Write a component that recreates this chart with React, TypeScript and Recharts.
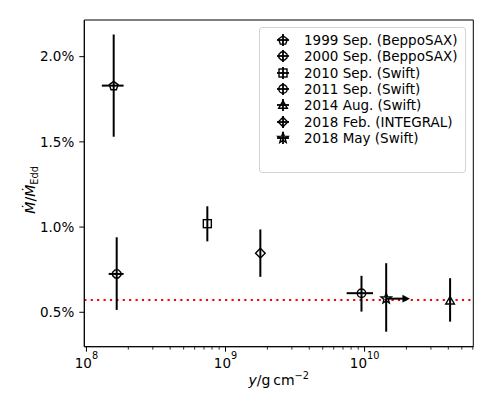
import React from "react";
import {
  ScatterChart,
  Scatter,
  XAxis,
  YAxis,
  ErrorBar,
  ReferenceLine,
  ReferenceArea,
  ReferenceDot,
  Legend,
} from "recharts";

const LABELS = [
  "1999 Sep. (BeppoSAX)",
  "2000 Sep. (BeppoSAX)",
  "2010 Sep. (Swift)",
  "2011 Sep. (Swift)",
  "2014 Aug. (Swift)",
  "2018 Feb. (INTEGRAL)",
  "2018 May (Swift)",
];
const MARKERS = ["pentagon", "octagon", "square", "circle", "triangle", "diamond", "star"];

// column depth y (g cm^-2) with x error range
const COLUMN = [1.57e8, 1.65e8, 7.4e8, 9.5e9, 4.12e10, 1.78e9, 1.43e10];
const COLUMN_LO = [1.29e8, 1.445e8, 7.4e8, 7.43e9, 4.12e10, 1.78e9, 1.43e10];
const COLUMN_HI = [1.85e8, 1.85e8, 7.4e8, 1.15e10, 4.12e10, 1.78e9, 2.0e10];

// accretion rate in % of Eddington with y error range
const RATE = [1.83, 0.725, 1.02, 0.612, 0.568, 0.847, 0.58];
const RATE_LO = [1.53, 0.514, 0.916, 0.504, 0.445, 0.708, 0.386];
const RATE_HI = [2.13, 0.94, 1.122, 0.714, 0.7, 0.986, 0.788];

// 2018 May is a lower limit on y -> arrow to the right
const LIMIT_INDEX = 6;
const LIMIT_TIP = 2.12e10;

const THRESHOLD = 0.572;

const X_DOMAIN = [9.65e7, 6.05e10];
const Y_DOMAIN = [0.298, 2.215];
const X_TICKS = [
  1e8, 2e8, 3e8, 4e8, 5e8, 6e8, 7e8, 8e8, 9e8,
  1e9, 2e9, 3e9, 4e9, 5e9, 6e9, 7e9, 8e9, 9e9,
  1e10, 2e10, 3e10, 4e10, 5e10, 6e10,
];
const Y_TICKS = [0.5, 1.0, 1.5, 2.0];

const FONT = "'DejaVu Sans', sans-serif";

function polygon(cx: number, cy: number, r: number, n: number, start: number) {
  const pts: string[] = [];
  for (let i = 0; i < n; i++) {
    const a = ((start + (360 / n) * i) * Math.PI) / 180;
    pts.push(`${cx + r * Math.cos(a)},${cy + r * Math.sin(a)}`);
  }
  return pts.join(" ");
}

function starPoints(cx: number, cy: number, ro: number, ri: number) {
  const pts: string[] = [];
  for (let i = 0; i < 10; i++) {
    const r = i % 2 === 0 ? ro : ri;
    const a = ((-90 + 36 * i) * Math.PI) / 180;
    pts.push(`${cx + r * Math.cos(a)},${cy + r * Math.sin(a)}`);
  }
  return pts.join(" ");
}

function Marker({ kind, cx, cy }: { kind: string; cx: number; cy: number }) {
  const common = { fill: "none", stroke: "#000", strokeWidth: 1.4 };
  switch (kind) {
    case "pentagon":
      return <polygon points={polygon(cx, cy + 0.4, 4.6, 5, -90)} {...common} />;
    case "octagon":
      return <polygon points={polygon(cx, cy, 4.4, 8, 22.5)} {...common} />;
    case "square":
      return <rect x={cx - 4} y={cy - 4} width={8} height={8} {...common} />;
    case "circle":
      return <circle cx={cx} cy={cy} r={4.2} {...common} />;
    case "triangle":
      return <polygon points={polygon(cx, cy + 0.8, 5, 3, -90)} {...common} />;
    case "diamond":
      return <polygon points={polygon(cx, cy, 4.8, 4, -90)} {...common} />;
    default:
      return <polygon points={starPoints(cx, cy, 5.4, 2.3)} {...common} />;
  }
}

function LogTick(props: any) {
  const { x, y, payload } = props;
  const v = payload.value as number;
  const exp = Math.round(Math.log10(v));
  const major = Math.abs(v - Math.pow(10, exp)) < 1e-6 * v;
  return (
    <g>
      <line x1={x} x2={x} y1={y} y2={y + (major ? 5 : 3)} stroke="#000" strokeWidth={major ? 1 : 0.8} />
      {major && (
        <text x={x} y={y + 21} textAnchor="middle" fontSize={13.5} fill="#000" fontFamily={FONT}>
          10
          <tspan dy={-8.5} fontSize={9.7}>
            {exp}
          </tspan>
        </text>
      )}
    </g>
  );
}

function LegendBox() {
  return (
    <div
      style={{
        width: 207,
        height: 146,
        boxSizing: "border-box",
        border: "1px solid #d4d4d4",
        borderRadius: 3,
        background: "rgba(255,255,255,0.8)",
        paddingTop: 4,
        fontFamily: FONT,
        fontSize: 13.5,
        color: "#000",
      }}
    >
      {LABELS.map((label, i) => (
        <div key={label} style={{ display: "flex", alignItems: "center", height: 16.33, whiteSpace: "nowrap" }}>
          <svg width={16} height={16} style={{ marginLeft: 15, marginRight: 13, flex: "none" }}>
            <line x1={2} x2={14} y1={8} y2={8} stroke="#000" strokeWidth={1.8} />
            <line x1={8} x2={8} y1={2} y2={14} stroke="#000" strokeWidth={1.8} />
            <Marker kind={MARKERS[i]} cx={8} cy={8} />
          </svg>
          <span>{label}</span>
        </div>
      ))}
    </div>
  );
}

export default function App() {
  const series = LABELS.map((label, i) => ({
    label,
    kind: MARKERS[i],
    data: [
      {
        x: COLUMN[i],
        y: RATE[i],
        ex: [COLUMN[i] - COLUMN_LO[i], COLUMN_HI[i] - COLUMN[i]],
        ey: [RATE[i] - RATE_LO[i], RATE_HI[i] - RATE[i]],
      },
    ],
  }));

  return (
    <div style={{ position: "absolute", left: 0, top: 0, width: 498, height: 399, background: "#fff" }}>
      <ScatterChart width={498} height={399} margin={{ top: 20, right: 24.7, left: 24.3, bottom: 22.3 }}>
        <ReferenceArea
          x1={X_DOMAIN[0]}
          x2={X_DOMAIN[1]}
          y1={Y_DOMAIN[0]}
          y2={Y_DOMAIN[1]}
          fill="none"
          stroke="#000"
          strokeWidth={1}
          ifOverflow="visible"
        />
        <XAxis
          dataKey="x"
          type="number"
          scale="log"
          domain={X_DOMAIN}
          allowDataOverflow
          ticks={X_TICKS}
          interval={0}
          tick={<LogTick />}
          tickLine={false}
          tickSize={0}
          tickMargin={0}
          axisLine={{ stroke: "#000" }}
          height={30}
          label={(p: any) => {
            const vb = p.viewBox;
            return (
              <text
                x={vb.x + vb.width / 2}
                y={vb.y + 38.3}
                textAnchor="middle"
                fontSize={14}
                fontFamily={FONT}
                fill="#000"
              >
                <tspan fontStyle="italic">y</tspan>/g{"\u2009"}cm
                <tspan dy={-6} fontSize={9.8}>
                  −2
                </tspan>
              </text>
            );
          }}
        />
        <YAxis
          dataKey="y"
          type="number"
          domain={Y_DOMAIN}
          allowDataOverflow
          ticks={Y_TICKS}
          interval={0}
          tickFormatter={(v: number) => `${v.toFixed(1)}%`}
          tick={{ fontSize: 13.5, fill: "#000", fontFamily: FONT }}
          tickSize={5}
          tickMargin={5}
          tickLine={{ stroke: "#000" }}
          axisLine={{ stroke: "#000" }}
          width={60}
          label={(p: any) => {
            const vb = p.viewBox;
            const x = vb.x + 10.7;
            const y = vb.y + vb.height / 2 + 6.5;
            return (
              <text
                x={x}
                y={y}
                transform={`rotate(-90 ${x} ${y})`}
                textAnchor="middle"
                fontSize={14}
                fontFamily={FONT}
                fill="#000"
              >
                <tspan fontStyle="italic">Ṁ</tspan>/<tspan fontStyle="italic">Ṁ</tspan>
                <tspan dy={3} fontSize={9.8}>
                  Edd
                </tspan>
              </text>
            );
          }}
        />
        <ReferenceLine y={THRESHOLD} stroke="#ff0000" strokeWidth={2} strokeDasharray="2.2 4.2" ifOverflow="hidden" />
        {series.map((s) => (
          <Scatter
            key={s.label}
            name={s.label}
            data={s.data}
            isAnimationActive={false}
            shape={(p: any) => <Marker kind={s.kind} cx={p.cx} cy={p.cy} />}
          >
            <ErrorBar dataKey="ex" direction="x" width={0} stroke="#000" strokeWidth={2} isAnimationActive={false} />
            <ErrorBar dataKey="ey" direction="y" width={0} stroke="#000" strokeWidth={2} isAnimationActive={false} />
          </Scatter>
        ))}
        <ReferenceDot
          x={LIMIT_TIP}
          y={RATE[LIMIT_INDEX]}
          ifOverflow="visible"
          shape={(p: any) => (
            <polygon
              points={`${p.cx},${p.cy} ${p.cx - 7.5},${p.cy - 3.8} ${p.cx - 7.5},${p.cy + 3.8}`}
              fill="#000"
            />
          )}
        />
        <Legend
          layout="horizontal"
          verticalAlign="middle"
          align="center"
          content={() => <LegendBox />}
          wrapperStyle={{ left: 259, top: 27, width: 207, height: 146 }}
        />
      </ScatterChart>
    </div>
  );
}
